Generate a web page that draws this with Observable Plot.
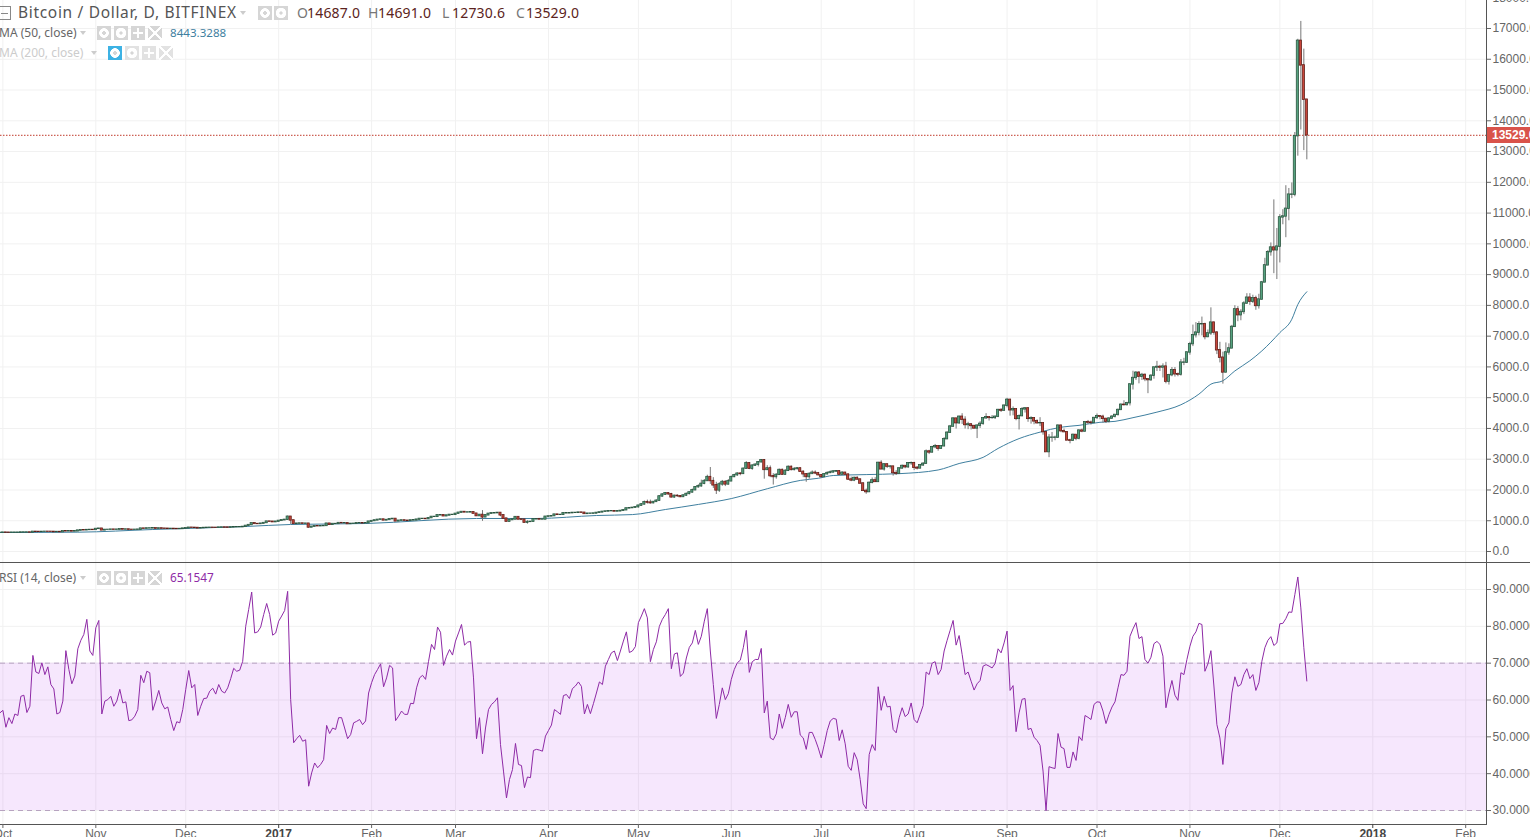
<!DOCTYPE html>
<html><head><meta charset="utf-8">
<script src="https://cdn.jsdelivr.net/npm/d3@7"></script>
<script src="https://cdn.jsdelivr.net/npm/@observablehq/plot@0.6"></script>
<style>
html,body{margin:0;padding:0;background:#fff;width:1530px;height:837px;overflow:hidden;font-family:"Liberation Sans",sans-serif}
#wrap{position:relative;width:1530px;height:837px;overflow:hidden}
#pane1,#pane2{position:absolute;left:0;width:1530px;overflow:hidden}
#pane1{top:0;height:564px}#pane2{top:563px;height:274px}
#sep{position:absolute;left:0;top:562px;width:1530px;height:1px;background:#555}
.t{position:absolute;white-space:nowrap;font-family:"Noto Sans",sans-serif}
.ic{position:absolute;width:14px;height:14px;background-color:#d6d6d6}
.eye{background-image:radial-gradient(circle,#d6d6d6 0 1.6px,#fff 2px 4.6px,transparent 5px)}
.gear{background-image:radial-gradient(circle,#d6d6d6 0 1.4px,#fff 1.8px 5px,transparent 5.4px)}
.plus{background-image:linear-gradient(#fff,#fff),linear-gradient(#fff,#fff);background-size:10px 2px,2px 10px;background-position:center;background-repeat:no-repeat}
.x{background-image:linear-gradient(45deg,transparent 44%,#fff 44% 56%,transparent 56%),linear-gradient(-45deg,transparent 44%,#fff 44% 56%,transparent 56%)}
.car{position:absolute;width:0;height:0;border-left:3.5px solid transparent;border-right:3.5px solid transparent;border-top:4px solid #ccc}
</style></head><body><div id="wrap"><div id="pane1"></div><div id="pane2"></div><div id="sep"></div><div id="ov"></div></div>
<script>
// Daily closes, 30 Sep 2016 .. 10 Dec 2017
const closes = [608,
/*Oct16*/614,611,610,612,612,612,618,618,618,617,640,637,636,638,641,640,639,630,635,630,656,655,655,652,656,680,690,689,698,702,700,
/*Nov16*/733,742,687,703,704,711,707,710,722,714,716,705,703,706,710,745,740,750,750,752,739,750,742,740,735,736,732,730,732,745,
/*Dec16*/753,773,770,766,752,759,766,770,772,770,769,778,780,778,775,783,789,791,791,800,833,860,915,895,893,905,925,972,968,953,968,
/*Jan17*/995,1015,1030,1130,1010,895,905,910,900,905,780,805,825,820,825,830,905,865,895,895,925,920,920,892,900,902,920,920,915,920,970,
/*Feb17*/990,1010,1030,1040,1010,1025,1050,1060,980,1000,1010,1000,995,1010,1012,1035,1060,1060,1055,1085,1125,1125,1175,1180,1145,1170,1190,1190,
/*Mar17*/1225,1260,1285,1270,1270,1275,1230,1150,1190,1110,1175,1225,1240,1245,1255,1175,1070,970,1020,1040,1120,1040,1035,935,960,965,1045,1045,1040,1040,1130,
/*Apr17*/1140,1150,1200,1190,1190,1240,1240,1245,1255,1255,1265,1260,1220,1230,1230,1235,1255,1270,1290,1300,1310,1310,1300,1305,1320,1340,1400,1410,1420,1440,
/*May17*/1490,1530,1600,1590,1570,1610,1650,1790,1850,1890,1860,1760,1810,1800,1770,1820,1870,1920,1990,2090,2120,2200,2290,2420,2290,2150,1985,2180,2260,2180,2280,
/*Jun17*/2420,2480,2530,2520,2690,2870,2690,2790,2820,2900,2970,2650,2700,2450,2420,2490,2650,2500,2620,2750,2650,2680,2700,2590,2510,2420,2520,2560,2540,2480,
/*Jul17*/2420,2510,2550,2570,2600,2610,2500,2560,2500,2340,2310,2390,2340,2210,1970,1930,2230,2310,2260,2880,2670,2830,2760,2760,2550,2530,2700,2780,2740,2870,2870,
/*Aug17*/2720,2700,2800,2850,3250,3220,3390,3420,3340,3420,3650,3860,4060,4320,4170,4380,4280,4110,4130,4080,4000,4090,4150,4330,4360,4340,4340,4380,4600,4580,4740,
/*Sep17*/4930,4590,4620,4310,4400,4620,4650,4310,4330,4230,4170,4170,3880,3230,3700,3700,3700,4090,3910,3880,3610,3600,3790,3670,3930,3900,4200,4190,4180,4340,
/*Oct17*/4400,4380,4310,4220,4320,4380,4440,4600,4770,4760,4820,5430,5640,5810,5680,5740,5600,5570,5710,5980,6000,5980,6010,5520,5730,5890,5760,5750,6140,6140,6470,
/*Nov17*/6740,7030,7115,7385,7385,6970,7090,7440,7115,6540,6300,5820,6470,6600,7300,7870,7680,7785,8060,8250,8120,8230,7980,8190,8745,9300,9730,9880,9790,9910,
/*Dec17*/10860,10890,11140,11600,11600,13500,16600,15800,14687,13529];
// Highs and lows, daily from 1 May 2017
const highs = [
1500,1560,1640,1670,1670,1620,1680,1810,1880,1910,1900,1890,1830,1840,1820,1840,1900,1940,2030,2110,2170,2320,2340,2480,2730,2400,2250,2240,2310,2300,2340,
2450,2510,2560,2560,2710,2920,2880,2820,2850,2920,2990,2990,2790,2780,2530,2530,2680,2680,2660,2780,2780,2730,2730,2720,2620,2520,2560,2620,2620,2570,
2490,2520,2590,2620,2630,2630,2620,2590,2570,2520,2420,2420,2430,2350,2230,2030,2260,2390,2400,2900,2950,2860,2850,2790,2770,2630,2710,2810,2790,2890,2910,
2900,2760,2830,2890,3300,3290,3420,3480,3420,3440,3700,3890,4100,4350,4330,4400,4480,4380,4200,4150,4090,4120,4220,4340,4480,4370,4420,4400,4620,4640,4760,
4980,4950,4700,4640,4440,4680,4680,4680,4380,4340,4280,4350,3980,3900,3800,3870,3750,4120,4110,3980,3890,3650,3820,3790,3960,3980,4220,4260,4240,4360,
4470,4410,4430,4330,4350,4420,4450,4630,4800,4900,4850,5450,5860,5850,5850,5790,5770,5600,5750,6000,6180,6050,6100,6150,5760,5980,5980,5800,6240,6280,6480,
6800,7360,7440,7470,7620,7420,7200,7920,7460,7150,6800,6480,6780,6750,7350,7990,7960,7860,8120,8380,8380,8330,8300,8360,8780,9530,9780,10030,11430,10500,
10950,11110,11890,11800,11980,13620,16650,17230,16330,14691];
const lows = [
1410,1480,1510,1540,1540,1550,1600,1640,1770,1820,1830,1740,1730,1760,1750,1760,1790,1840,1900,1980,2060,2090,2170,2280,2180,2050,1853,1920,2120,2110,2160,
2280,2400,2440,2460,2510,2680,2660,2640,2770,2750,2880,2350,2630,2400,2160,2350,2470,2470,2480,2600,2620,2620,2650,2570,2400,2250,2350,2510,2500,2460,
2390,2420,2490,2540,2560,2580,2490,2490,2480,2310,2270,2270,2320,2190,1960,1860,1920,2200,2250,2250,2670,2610,2700,2680,2450,2470,2510,2680,2690,2700,2800,
2630,2650,2690,2770,2850,3150,3200,3340,3260,3330,3400,3640,3850,4050,3980,4130,4130,3980,3960,3950,3980,3670,4000,4100,4300,4240,4300,4290,4350,4520,4560,
4670,4400,4410,4250,3950,4380,4500,4200,4140,4120,4140,4060,3780,3230,3050,3550,3600,3690,3860,3860,3600,3500,3580,3600,3630,3860,3880,4130,4110,4150,
4290,4280,4170,4160,4180,4320,4340,4400,4590,4730,4730,4730,5250,5560,5450,5560,5520,5130,5530,5600,5850,5850,5640,5450,5410,5680,5670,5680,5700,6040,6110,
6380,6660,6940,7010,7010,6880,6950,7020,7030,6400,6130,5440,5800,6380,6600,7280,7470,7500,7700,8040,8000,8060,7840,7880,8170,8750,9300,9600,9030,8840,
9380,10620,10200,10750,11470,11530,12850,13700,13030,12730.6];
// Visible wicks before May 2017: day offset from 1 Oct 2016, high, low
const earlyWickDays = [95,96,102,160,175,166,167];
const earlyWickHighs = [1150,1130,900,1330,1000,1260,1180];
const earlyWickLows = [1010,880,760,980,890,1130,1040];
// 50-day moving average samples
const maDays = [-1,25,50,81,96,121,158,178,198,210,221,232,243,255,266,272,277,288,299,312,319,327,332,339,346,353,359,366,371,377,385,393,399,403,407,411,416,420,426,430,432,435];
const maValues = [617,628,715,813,878,910,1073,1073,1170,1200,1365,1530,1720,2040,2310,2380,2470,2500,2530,2650,2860,3060,3350,3670,3880,4040,4100,4200,4230,4350,4530,4770,5115,5440,5550,5870,6200,6520,7115,7550,8030,8443.3288];
// RSI(14), daily
const rsi = [
56.5,57.2,52.6,55.2,53.6,56.2,55.8,61.0,61.3,56.6,58.3,72.1,67.6,67.2,70.1,66.9,69.0,64.2,63.0,56.2,56.6,59.7,73.4,68.3,64.4,66.5,73.9,76.2,77.8,81.9,73.3,72.1,79.6,81.6,56.2,59.7,60.1,61.0,58.3,59.7,62.9,59.2,59.5,54.4,54.6,55.6,57.4,66.7,64.7,67.8,67.4,57.2,59.7,62.6,59.2,57.6,58.1,54.7,51.7,54.1,53.8,57.4,62.9,68.0,63.3,64.2,55.8,58.3,60.4,60.5,62.4,63.2,61.6,64.2,62.4,61.9,63.3,65.8,68.6,67.8,68.1,70.5,80.0,84.6,89.3,78.2,78.5,79.8,83.2,86.2,83.2,77.6,78.2,81.4,82.8,84.3,89.5,60.1,48.4,49.5,50.4,48.8,49.2,36.6,40.2,42.9,41.6,42.5,43.8,53.1,50.9,52.4,52.0,55.2,55.2,52.4,49.5,50.6,53.8,54.2,54.7,53.3,54.3,61.9,64.7,66.9,68.3,69.8,63.6,66.0,69.4,68.7,54.4,55.6,57.0,56.1,56.1,59.1,59.0,63.3,66.0,66.7,65.6,70.5,75.1,73.7,79.8,78.4,69.4,71.9,73.7,72.2,76.0,78.2,80.5,74.9,75.7,75.9,66.0,49.5,55.2,45.4,52.4,57.4,58.8,59.5,60.6,47.9,
40.7,33.4,38.4,41.1,48.2,42.5,42.2,36.2,39.1,38.9,46.3,46.6,46.4,46.1,50.2,51.7,53.2,57.4,56.8,56.1,61.2,61.5,60.4,63.1,63.8,64.9,63.7,56.2,58.8,56.3,59.0,61.9,64.9,64.2,69.2,71.0,72.8,73.3,70.7,73.3,76.0,78.5,72.9,73.3,74.5,81.0,82.8,84.8,82.3,70.4,73.7,75.8,80.0,81.9,83.2,84.8,68.5,72.5,72.8,66.4,67.3,71.4,74.3,75.5,78.9,75.1,77.3,81.4,84.8,73.3,64.2,55.0,58.8,63.3,60.1,61.7,65.6,68.3,70.1,70.8,74.2,78.9,67.5,70.4,71.0,71.0,74.0,56.5,59.7,49.7,49.2,50.8,56.2,52.3,55.2,58.8,55.3,56.8,56.8,50.5,49.7,46.6,51.2,51.2,49.3,47.0,44.3,47.9,51.7,54.3,55.0,54.8,49.0,51.9,48.1,42.0,40.9,45.7,43.8,38.4,31.8,30.5,45.2,47.9,46.3,63.6,57.2,61.0,58.1,58.3,52.0,51.1,55.2,57.9,55.5,56.2,59.2,54.7,53.8,56.1,58.5,67.6,66.9,70.0,70.4,66.9,68.3,73.3,76.2,78.9,81.6,74.9,77.5,72.4,66.9,67.6,65.1,62.7,64.4,65.3,69.2,69.6,69.2,68.7,69.9,73.9,
72.8,75.5,78.7,62.6,63.9,51.4,56.5,60.2,60.4,52.0,52.3,49.9,49.0,47.7,40.7,30.0,41.9,41.6,41.4,50.9,47.2,46.8,41.7,41.7,45.9,43.6,50.1,49.0,55.8,55.3,54.7,58.8,59.5,59.4,57.0,53.6,56.1,58.1,59.5,63.3,66.9,66.7,67.8,77.3,79.3,81.0,76.7,77.2,71.0,70.0,71.6,75.3,75.9,75.1,71.9,57.9,61.9,65.3,61.3,59.9,67.4,66.9,71.0,74.6,77.3,78.5,80.8,80.5,67.8,69.8,73.4,63.8,53.3,49.7,42.5,52.2,53.8,61.9,66.3,63.7,64.2,66.9,68.5,65.8,66.9,62.6,64.7,70.5,74.2,76.2,77.2,74.8,75.5,80.7,80.8,82.1,83.9,83.8,88.6,93.4,85.0,74.2,65.1547];
const priceTicks = [0,1000,2000,3000,4000,5000,6000,7000,8000,9000,10000,11000,12000,13000,14000,15000,16000,17000,18000];
const rsiTicks = [30,40,50,60,70,80,90];
const monthDates = ["2016-10-01","2016-11-01","2016-12-01","2017-02-01","2017-03-01","2017-04-01","2017-05-01","2017-06-01","2017-07-01","2017-08-01","2017-09-01","2017-10-01","2017-11-01","2017-12-01","2018-02-01"];
const monthLabels = ["Oct","Nov","Dec","Feb","Mar","Apr","May","Jun","Jul","Aug","Sep","Oct","Nov","Dec","Feb"];
const yearDates = ["2017-01-01","2018-01-01"];
const yearLabels = ["2017","2018"];
const lastClose = 13529;
const rsiBand = [30,70];

if (closes.length!==437||rsi.length!==437||highs.length!==224||lows.length!==224)
  throw new Error(`lengths c${closes.length} r${rsi.length} h${highs.length} l${lows.length}`);

const day = i => new Date(Date.UTC(2016,9,1)+i*864e5);
const mDates = monthDates.map(d=>new Date(d)), yDates = yearDates.map(d=>new Date(d));
const allTicks = [...mDates,...yDates];
const mLab = new Map(mDates.map((d,i)=>[+d,monthLabels[i]]));
const yLab = new Map(yDates.map((d,i)=>[+d,yearLabels[i]]));
const xScale = {type:"utc",domain:[new Date("2016-10-01"),new Date("2018-02-01")],range:[2.4,1465.2]};
const MAY1 = 212;
const early = new Map(earlyWickDays.map((d,i)=>[d,i]));
const candles = closes.map((c,k)=>{
  const i=k-1, o=k?closes[k-1]:c;
  let h=Math.max(o,c), l=Math.min(o,c);
  if(i>=MAY1){h=Math.max(h,highs[i-MAY1]);l=Math.min(l,lows[i-MAY1]);}
  else if(early.has(i)){const e=early.get(i);h=Math.max(h,earlyWickHighs[e]);l=Math.min(l,earlyWickLows[e]);}
  return {d:day(i),x1:new Date(+day(i)-0.36*864e5),x2:new Date(+day(i)+0.36*864e5),o,c,h,l};
});
const up=candles.filter(d=>d.c>=d.o), dn=candles.filter(d=>d.c<d.o);
const grid="#f1f1f1", axisCol="#666";

const priceChart = Plot.plot({
  width:1530,height:564,marginLeft:0,marginRight:44,marginTop:0,marginBottom:1,
  style:{background:"transparent",fontFamily:"Liberation Sans"},
  x:{...xScale,axis:null},
  y:{domain:[0,17000],range:[551,28]},
  marks:[
    Plot.ruleX(allTicks,{stroke:grid}),
    Plot.ruleY(priceTicks,{stroke:grid}),
    Plot.ruleY([lastClose],{stroke:"#c0392b",strokeDasharray:"1.5,1.5",strokeWidth:1}),
    Plot.line(maDays.map((d,i)=>({d:day(d),v:maValues[i]})),{x:"d",y:"v",stroke:"#3f7f9f",strokeWidth:1,curve:"monotone-x"}),
    Plot.ruleX(candles,{x:"d",y1:"l",y2:"h",stroke:"#777",strokeWidth:1}),
    Plot.rect(up,{x1:"x1",x2:"x2",y1:"o",y2:"c",insetTop:-0.25,insetBottom:-0.25,fill:"#55a27f",stroke:"#28523d",strokeWidth:0.75}),
    Plot.rect(dn,{x1:"x1",x2:"x2",y1:"o",y2:"c",insetTop:-0.25,insetBottom:-0.25,fill:"#c8453a",stroke:"#5e1c16",strokeWidth:0.75}),
    Plot.frame({anchor:"right",stroke:"#555"}),
    Plot.axisY({anchor:"right",ticks:priceTicks,tickFormat:d=>d.toFixed(1),tickSize:4,tickPadding:2,fontSize:12,color:axisCol,label:null})
  ]
});
document.getElementById("pane1").append(priceChart);

const rsiChart = Plot.plot({
  width:1530,height:274,marginLeft:0,marginRight:44,marginTop:0,marginBottom:13,
  style:{background:"transparent",fontFamily:"Liberation Sans"},
  x:xScale,
  y:{domain:[30,90],range:[247,26]},
  marks:[
    Plot.ruleX(allTicks,{stroke:grid}),
    Plot.ruleY(rsiTicks,{stroke:grid}),
    Plot.rectY([0],{y1:rsiBand[0],y2:rsiBand[1],fill:"#b026f0",fillOpacity:0.11}),
    Plot.ruleY(rsiBand,{stroke:"#b7a3c0",strokeDasharray:"5,4"}),
    Plot.line(rsi.map((v,k)=>({d:day(k-1),v})),{x:"d",y:"v",stroke:"#8e2aa6",strokeWidth:1}),
    Plot.frame({anchor:"right",stroke:"#555"}),
    Plot.frame({anchor:"bottom",stroke:"#555"}),
    Plot.axisY({anchor:"right",ticks:rsiTicks,tickFormat:d=>d.toFixed(4),tickSize:4,tickPadding:2,fontSize:12,color:axisCol,label:null}),
    Plot.axisX({anchor:"bottom",ticks:mDates,tickFormat:d=>mLab.get(+d),tickSize:4,tickPadding:1,fontSize:12,color:axisCol,label:null}),
    Plot.axisX({anchor:"bottom",ticks:yDates,tickFormat:d=>yLab.get(+d),tickSize:4,tickPadding:1,fontSize:12,color:"#444",fontWeight:"bold",label:null})
  ]
});
document.getElementById("pane2").append(rsiChart);

// Legend overlay
const ov=document.getElementById("ov");
const T=(s,x,y,size,col,extra="")=>{const e=document.createElement("div");e.className="t";e.textContent=s;e.style.cssText=`left:${x}px;top:${y}px;font-size:${size}px;line-height:${size+4}px;color:${col};${extra}`;ov.append(e);};
const I=(k,x,y,col)=>{const e=document.createElement("div");e.className="ic "+k;e.style.cssText=`left:${x}px;top:${y}px;`+(col?`background-color:${col};`:"");ov.append(e);};
const C=(x,y)=>{const e=document.createElement("div");e.className="car";e.style.cssText=`left:${x}px;top:${y}px`;ov.append(e);};
T("Bitcoin / Dollar, D, BITFINEX",18,3,15.5,"#555","letter-spacing:.68px");
C(240,11);I("eye",258,6);I("gear",274,6);
[["O",297,"14687.0"],["H",368,"14691.0"],["L",442,"12730.6"],["C",516,"13529.0"]].forEach(([a,x,v])=>{
  T(a,x,4,14,"#777");T(v,x+10,4,14,"#5b2320","letter-spacing:.2px");
});
const box=document.createElement("div");box.style.cssText="position:absolute;left:-2px;top:6px;width:11px;height:12px;border:1px solid #888;background:linear-gradient(#888,#888) center/7px 1px no-repeat";ov.append(box);
T("MA (50, close)",-1,25,12,"#666");C(80,31);I("eye",97,26);I("gear",114,26);I("plus",131,26);I("x",148,26);
T("8443.3288",170,25,11.6,"#3f7f9f");
T("MA (200, close)",-1,45,12,"#ccc");C(91,51);I("eye",108,46,"#3db2e4");I("gear",125,46,"#e2e2e2");I("plus",142,46,"#e2e2e2");I("x",159,46,"#e2e2e2");
T("RSI (14, close)",-1,570,12,"#666");C(80,576);I("eye",97,571);I("gear",114,571);I("plus",131,571);I("x",148,571);
T("65.1547",170,570,11.8,"#8e2aa6");
const pl=document.createElement("div");pl.textContent="13529.0";pl.style.cssText='position:absolute;left:1487px;top:127px;width:43px;height:16px;background:#d9534a;color:#fff;font:bold 12px/16px "Liberation Sans";padding-left:5px;box-sizing:border-box;overflow:hidden;white-space:nowrap';ov.append(pl);
</script></body></html>
